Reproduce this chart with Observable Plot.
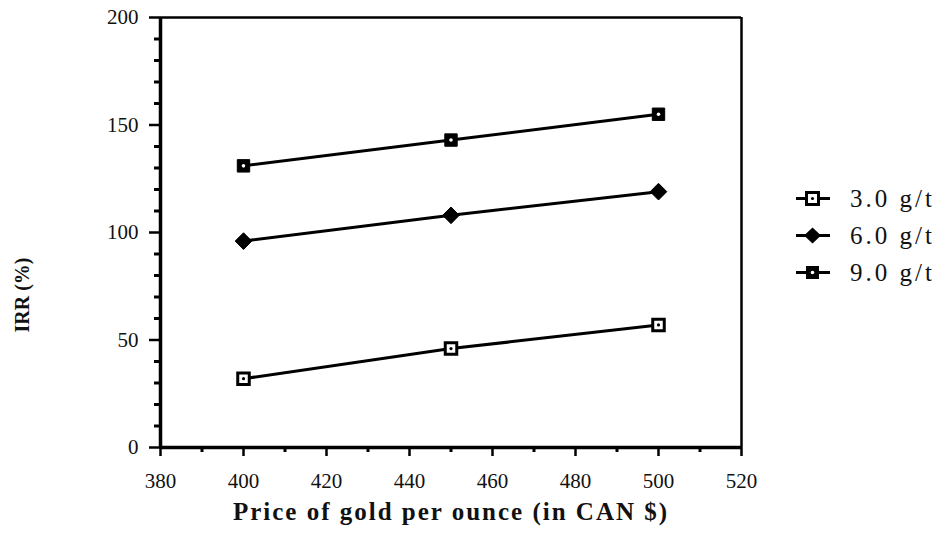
<!DOCTYPE html>
<html>
<head>
<meta charset="utf-8">
<script src="https://cdn.jsdelivr.net/npm/d3@7"></script>
<script src="https://cdn.jsdelivr.net/npm/@observablehq/plot@0.6"></script>
<style>
  html, body { margin: 0; padding: 0; background: #fff; }
  #wrap { position: relative; width: 942px; height: 537px; font-family: "Liberation Serif", serif; }
  #legend { position: absolute; left: 795px; top: 180px; }
  .item { display: flex; align-items: center; height: 37px; font-size: 25px; letter-spacing: 3px; color: #111; }
  .item svg { margin-right: 19px; }
</style>
</head>
<body>
<div id="wrap"><div id="chart"></div><div id="legend"></div></div>
<script>
// ---- data ----
const prices = [400, 450, 500];
const seriesNames = ["3.0 g/t", "6.0 g/t", "9.0 g/t"];
const irr3 = [32, 46, 57];
const irr6 = [96, 108, 119];
const irr9 = [131, 143, 155];
const xTicks = [380, 400, 420, 440, 460, 480, 500, 520];
const xMinorTicks = [390, 410, 430, 450, 470, 490, 510];
const yTicks = [0, 50, 100, 150, 200];
const yMinorTicks = [10, 20, 30, 40, 60, 70, 80, 90, 110, 120, 130, 140, 160, 170, 180, 190];
const xTitle = "Price of gold per ounce (in CAN $)";
const yTitle = "IRR (%)";

const seriesValues = [irr3, irr6, irr9];
const rows = [];
seriesNames.forEach((s, i) => prices.forEach((p, j) => rows.push({series: s, price: p, irr: seriesValues[i][j]})));
const r3 = rows.filter(d => d.series === seriesNames[0]);
const r6 = rows.filter(d => d.series === seriesNames[1]);
const r9 = rows.filter(d => d.series === seriesNames[2]);

const chart = Plot.plot({
  width: 942,
  height: 537,
  marginLeft: 160,
  marginRight: 201,
  marginTop: 17,
  marginBottom: 90,
  style: {fontFamily: "Liberation Serif, serif", background: "white", color: "#000"},
  x: {domain: [380, 520]},
  y: {domain: [0, 200]},
  marks: [
    Plot.axisX({ticks: xMinorTicks, tickSize: 5, text: null, label: null, stroke: "black", strokeWidth: 3, strokeOpacity: 1}),
    Plot.axisX({ticks: xTicks, tickSize: 9, tickPadding: 17, fontSize: 21, label: null, stroke: "black", strokeWidth: 2.5, strokeOpacity: 1, fill: "#111", tickFormat: d => String(d)}),
    Plot.axisY({ticks: yMinorTicks, tickSize: 6, text: null, label: null, stroke: "black", strokeWidth: 3, strokeOpacity: 1}),
    Plot.axisY({ticks: yTicks, tickSize: 11, tickPadding: 11, fontSize: 21, label: null, stroke: "black", strokeWidth: 2.5, strokeOpacity: 1, fill: "#111", tickFormat: d => String(d)}),
    Plot.ruleX([380], {strokeWidth: 3.5, stroke: "black"}),
    Plot.ruleY([0], {strokeWidth: 3.5, stroke: "black"}),
    Plot.ruleY([200], {strokeWidth: 2.5, stroke: "black"}),
    Plot.ruleX([520], {strokeWidth: 2.5, stroke: "black"}),
    Plot.line(rows, {x: "price", y: "irr", z: "series", stroke: "black", strokeWidth: 3}),
    Plot.dot(r3, {x: "price", y: "irr", symbol: "square", r: 6.5, fill: "white", stroke: "black", strokeWidth: 3}),
    Plot.dot(r3, {x: "price", y: "irr", r: 1.6, fill: "black"}),
    Plot.dot(r9, {x: "price", y: "irr", symbol: "square", r: 7, fill: "black", stroke: "black", strokeWidth: 1}),
    Plot.dot(r9, {x: "price", y: "irr", r: 1.8, fill: "white"}),
    Plot.dot(r6, {x: "price", y: "irr", symbol: "diamond2", r: 7.5, fill: "black", stroke: "black", strokeWidth: 1}),
    Plot.text([xTitle], {text: d => d, frameAnchor: "bottom", dy: 72, fontSize: 25, fontWeight: "bold", fill: "#111"}),
    Plot.text([yTitle], {text: d => d, frameAnchor: "left", dx: -138, dy: 100, rotate: -90, fontSize: 20, fontWeight: "bold", fill: "#111"})
  ]
});
document.getElementById("chart").appendChild(chart);
// letter spacing for the x title
chart.querySelectorAll("text").forEach(t => { if (t.textContent === xTitle) t.setAttribute("letter-spacing", "2"); });

// legend
const symbols = {
  "3.0 g/t": '<rect x="11.5" y="4.5" width="12" height="12" fill="white" stroke="black" stroke-width="3"/><circle cx="17.5" cy="10.5" r="1.6" fill="black"/>',
  "6.0 g/t": '<path d="M17.5 2.5 L26 10.5 L17.5 18.5 L9 10.5 Z" fill="black"/>',
  "9.0 g/t": '<rect x="11" y="4" width="13" height="13" fill="black"/><circle cx="17.5" cy="10.5" r="1.8" fill="white"/>'
};
const legend = document.getElementById("legend");
seriesNames.forEach(name => {
  const div = document.createElement("div");
  div.className = "item";
  div.innerHTML = `<svg width="36" height="21"><line x1="1" x2="35" y1="10.5" y2="10.5" stroke="black" stroke-width="3"/>${symbols[name]}</svg><span>${name}</span>`;
  legend.appendChild(div);
});
</script>
</body>
</html>
